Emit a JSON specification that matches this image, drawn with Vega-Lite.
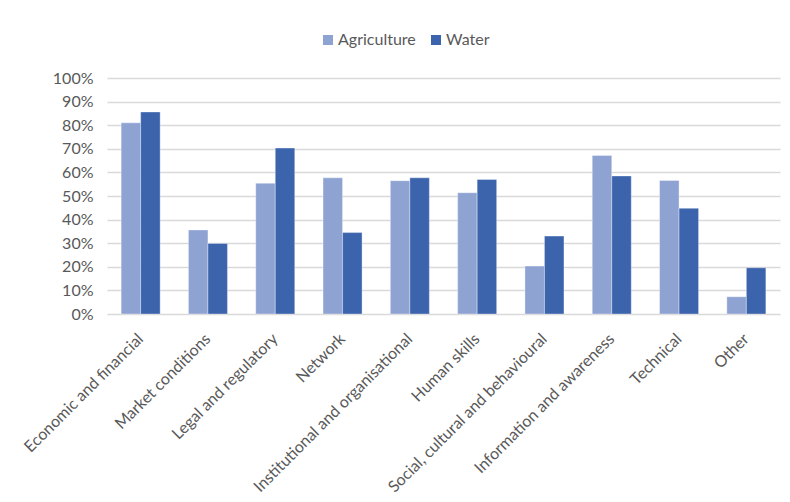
{
  "$schema": "https://vega.github.io/schema/vega-lite/v6.json",
  "autosize": {"type": "none"},
  "width": 673,
  "height": 236,
  "padding": {"left": 107, "top": 78, "right": 10, "bottom": 188},
  "background": "white",
  "data": {
    "values": [
      {"category": "Economic and financial", "sector": "Agriculture", "share": 0.81},
      {"category": "Economic and financial", "sector": "Water", "share": 0.856},
      {"category": "Market conditions", "sector": "Agriculture", "share": 0.356},
      {"category": "Market conditions", "sector": "Water", "share": 0.299},
      {"category": "Legal and regulatory", "sector": "Agriculture", "share": 0.554},
      {"category": "Legal and regulatory", "sector": "Water", "share": 0.703},
      {"category": "Network", "sector": "Agriculture", "share": 0.577},
      {"category": "Network", "sector": "Water", "share": 0.345},
      {"category": "Institutional and organisational", "sector": "Agriculture", "share": 0.565},
      {"category": "Institutional and organisational", "sector": "Water", "share": 0.577},
      {"category": "Human skills", "sector": "Agriculture", "share": 0.514},
      {"category": "Human skills", "sector": "Water", "share": 0.57},
      {"category": "Social, cultural and behavioural", "sector": "Agriculture", "share": 0.203},
      {"category": "Social, cultural and behavioural", "sector": "Water", "share": 0.33},
      {"category": "Information and awareness", "sector": "Agriculture", "share": 0.672},
      {"category": "Information and awareness", "sector": "Water", "share": 0.585},
      {"category": "Technical", "sector": "Agriculture", "share": 0.566},
      {"category": "Technical", "sector": "Water", "share": 0.448},
      {"category": "Other", "sector": "Agriculture", "share": 0.073},
      {"category": "Other", "sector": "Water", "share": 0.196}
    ]
  },
  "mark": {"type": "bar", "stroke": "white", "strokeWidth": 1, "strokeOpacity": 0.35},
  "encoding": {
    "x": {
      "field": "category",
      "type": "nominal",
      "sort": null,
      "scale": {"paddingInner": 0.42, "paddingOuter": 0.21},
      "axis": {
        "title": null,
        "labelAngle": -45,
        "labelAlign": "right",
        "labelBaseline": "middle",
        "labelPadding": 22,
        "ticks": false,
        "domain": false,
        "labelLimit": 300
      }
    },
    "xOffset": {"field": "sector", "type": "nominal", "sort": ["Agriculture", "Water"]},
    "y": {
      "field": "share",
      "type": "quantitative",
      "scale": {"domain": [0, 1], "nice": false},
      "axis": {
        "title": null,
        "format": ".0%",
        "values": [0, 0.1, 0.2, 0.3, 0.4, 0.5, 0.6, 0.7, 0.8, 0.9, 1],
        "ticks": false,
        "domain": false,
        "labelPadding": 14,
        "grid": true,
        "gridColor": "#d9d9d9",
        "gridWidth": 1.3
      }
    },
    "color": {
      "field": "sector",
      "type": "nominal",
      "sort": ["Agriculture", "Water"],
      "scale": {"domain": ["Agriculture", "Water"], "range": ["#8fa3d3", "#3c64ad"]},
      "legend": {
        "title": null,
        "orient": "none",
        "direction": "horizontal",
        "legendX": 213,
        "legendY": -46,
        "symbolType": "square",
        "symbolSize": 100,
        "symbolStrokeWidth": 0,
        "columnPadding": 12,
        "labelOffset": 2
      }
    }
  },
  "config": {
    "view": {"stroke": null},
    "font": "Lato",
    "axis": {"labelColor": "#595959", "labelFont": "Lato", "labelFontSize": 16},
    "legend": {"labelColor": "#595959", "labelFont": "Lato", "labelFontSize": 16}
  }
}
